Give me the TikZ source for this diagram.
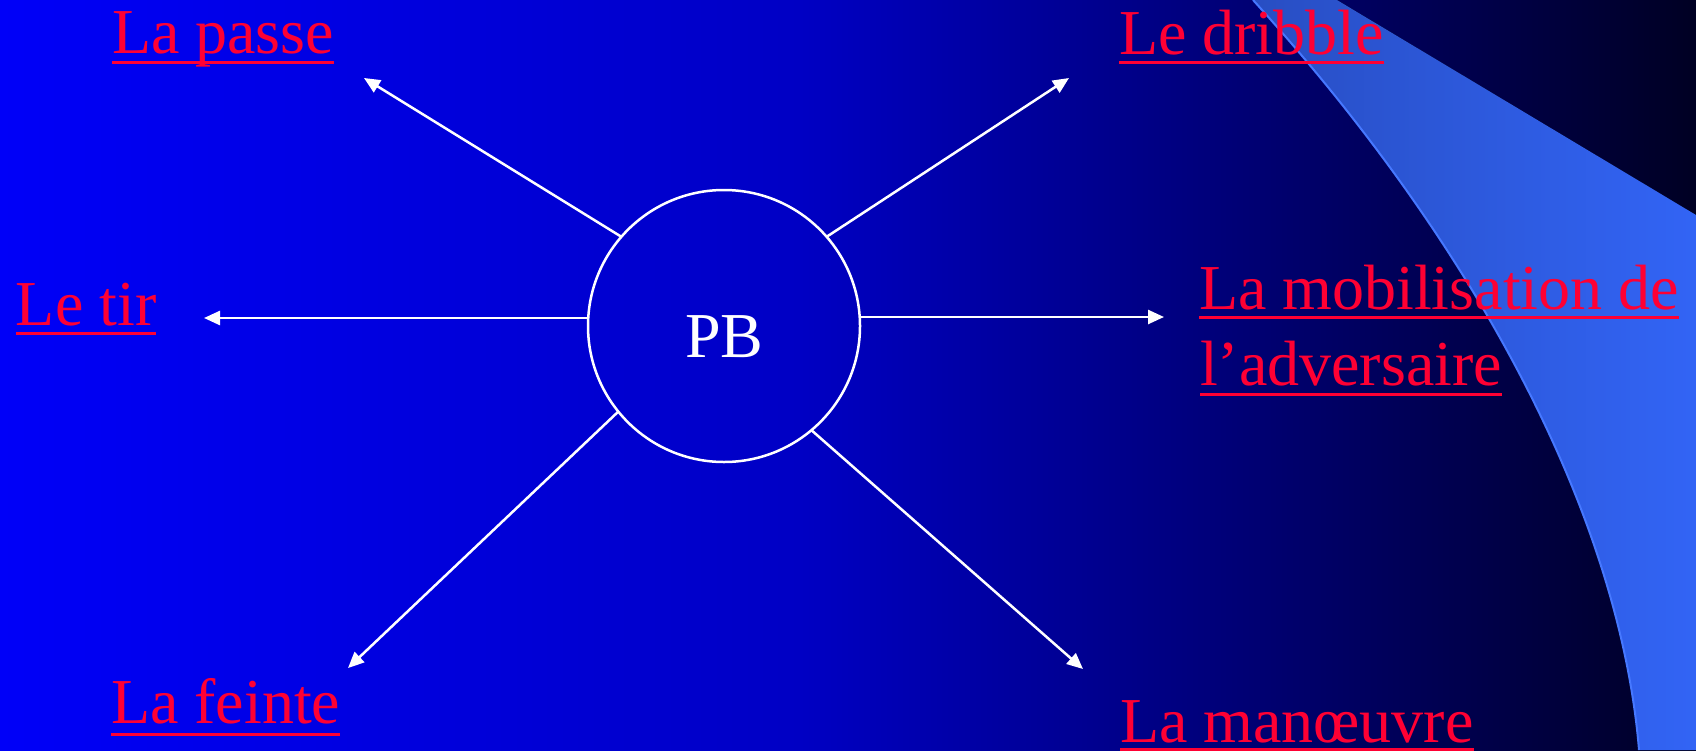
\documentclass[tikz,border=0pt]{standalone}
\usepackage{fontspec}
\setmainfont{Liberation Serif}
\usetikzlibrary{arrows.meta}
\definecolor{lred}{RGB}{255,0,51}
\definecolor{bgA}{RGB}{0,0,248}
\definecolor{bgB}{RGB}{0,0,196}
\definecolor{bgC}{RGB}{0,0,35}
\definecolor{swA}{RGB}{40,78,195}
\definecolor{swB}{RGB}{50,100,245}
\definecolor{swE}{RGB}{70,120,255}
\begin{document}
\begin{tikzpicture}[x=1pt,y=-1pt,
  lbl/.style={text=lred,font=\fontsize{64}{74}\selectfont,anchor=base west,inner sep=0pt,outer sep=0pt},
  uline/.style={draw=lred,line width=3pt},
  conn/.style={draw=white,line width=2.5pt,-{Triangle[length=16pt,width=14pt]}},
  hub/.style={circle,draw=white,line width=2.5pt,minimum size=272pt,inner sep=0pt,outer sep=0pt}]
\useasboundingbox (0,0) rectangle (1696,750);
% background
\fill[left color=bgA,right color=bgB] (0,0) rectangle (801,750);
\fill[left color=bgB,right color=bgC] (800,0) rectangle (1696,750);
% swoosh
\fill[left color=swA,right color=swB] (1253,0) -- (1337,0) -- (1696,215) -- (1696,750) -- (1639,750)
  .. controls (1620,520) and (1480,250) .. (1253,0) -- cycle;
\draw[swE,line width=2pt] (1639,750) .. controls (1620,520) and (1480,250) .. (1253,0);
% hub
\node[hub] (pb) at (724,326) {};
\node[text=white,font=\fontsize{64}{74}\selectfont,anchor=base,inner sep=0pt] (pbt) at (724.5,357) {PB};
% labels
\node[lbl] (passe) at (112,53) {La passe};
\node[lbl] (tir) at (16,325) {Le tir};
\node[lbl] (dribble) at (1119,54) {Le dribble};
\node[lbl] (mob1) at (1199,309) {La mobilisation de};
\node[lbl] (mob2) at (1200,385) {l’adversaire};
\node[lbl] (feinte) at (111,723) {La feinte};
\node[lbl] (manoeuvre) at (1120,742) {La manœuvre};
\foreach \n/\d in {passe/9,tir/8,dribble/8,mob1/8,mob2/9,feinte/11,manoeuvre/7}{
  \draw[uline] ([yshift=-\d pt]\n.base west) -- ([yshift=-\d pt]\n.base east);
}
% arrow tips
\coordinate (tpasse) at (364,78);
\coordinate (ttir) at (204,318);
\coordinate (tdribble) at (1069,78);
\coordinate (tmob) at (1164,317);
\coordinate (tfeinte) at (348,668);
\coordinate (tman) at (1083,669);
\draw[conn] (pb.139.4) -- (tpasse);
\draw[conn] (pb.west |- ttir) -- (ttir);
\draw[conn] (pb.41.1) -- (tdribble);
\draw[conn] (pb.east |- tmob) -- (tmob);
\draw[conn] (pb.219.6) -- (tfeinte);
\draw[conn] (pb.310.2) -- (tman);
\end{tikzpicture}
\end{document}
